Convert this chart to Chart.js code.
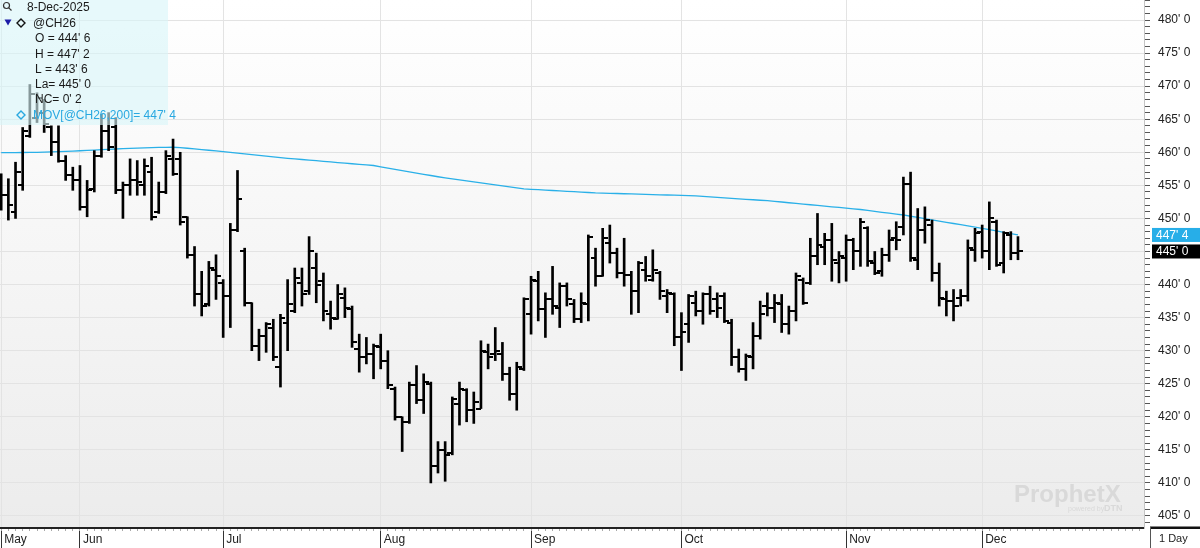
<!DOCTYPE html>
<html>
<head>
<meta charset="utf-8">
<script src="https://cdn.jsdelivr.net/npm/chart.js@4.4.1/dist/chart.umd.min.js"></script>
<style>
html,body{margin:0;padding:0;background:#fff;overflow:hidden}
canvas{display:block}
</style>
</head>
<body>
<canvas id="c" width="1200" height="548"></canvas>
<script>
const symbol = '@CH26';
const lastDate = '8-Dec-2025';
const monthLabels = ['May','Jun','Jul','Aug','Sep','Oct','Nov','Dec'];
const monthStarts = [0, 11, 31, 53, 74, 95, 118, 137];

const opens = [
456.5,453.5,451.0,455.0,462.5,465.25,466.0,463.75,461.5,458.75,
456.5,455.75,451.75,454.5,459.5,463.25,463.75,454.25,455.0,455.75,
455.0,457.0,451.0,454.0,459.0,459.0,450.25,444.5,438.5,437.0,
442.25,440.25,438.25,448.25,445.0,437.25,430.75,432.25,433.5,427.5,
434.25,436.0,440.25,439.0,442.5,440.5,435.5,434.75,438.0,436.25,
430.25,429.0,429.5,430.5,428.5,424.25,420.0,419.25,424.75,422.5,
425.0,412.5,415.0,414.5,422.0,424.0,421.0,421.25,429.75,429.5,
429.5,426.5,423.5,427.25,435.5,440.5,436.25,437.75,436.5,439.75,
437.0,434.75,437.0,444.0,441.25,446.25,444.75,441.75,441.5,439.0,
442.25,440.75,441.75,438.25,438.5,432.0,434.0,437.25,436.0,438.5,
437.75,438.25,434.25,429.0,427.25,429.0,432.25,436.75,436.5,437.0,
434.0,436.0,440.75,440.25,444.25,445.75,446.75,443.25,444.0,446.75,
445.0,448.5,443.25,442.0,444.5,447.0,448.75,455.25,443.75,448.25,
449.0,441.75,437.75,437.5,438.0,438.25,445.25,448.0,445.0,449.5,
443.25,447.5,444.75];

const highs = [
456.75,456.0,458.5,463.75,470.25,469.0,468.0,464.0,464.0,459.5,
457.75,458.0,455.75,460.25,465.75,466.0,465.25,455.5,459.0,458.75,
459.0,459.25,455.5,460.25,462.0,460.0,450.25,445.75,442.0,443.5,
444.5,440.75,449.25,457.25,445.5,437.25,433.25,434.25,434.75,435.5,
440.75,442.5,442.5,447.25,444.75,441.75,437.5,440.0,439.5,436.75,
432.5,432.0,431.0,432.5,430.0,424.5,420.0,425.25,427.75,426.5,
425.25,416.25,416.25,423.0,425.25,424.25,423.75,431.5,431.0,433.5,
431.25,427.5,428.25,438.0,441.25,442.0,438.75,442.75,440.25,440.25,
437.75,438.75,447.5,445.5,448.5,449.0,445.5,447.0,442.0,443.5,
444.25,445.25,442.0,439.25,438.75,435.75,438.5,439.0,438.75,439.75,
438.75,438.75,434.75,430.25,429.5,434.25,437.5,438.75,438.5,438.5,
436.75,441.75,441.0,447.0,450.75,447.75,449.25,445.0,447.5,447.0,
450.0,448.75,445.0,445.5,448.25,449.5,456.25,457.0,451.5,451.75,
449.75,443.25,439.0,439.25,439.25,446.75,448.5,449.0,452.5,449.75,
448.0,448.0,447.25];

const lows = [
451.25,449.75,450.0,454.25,462.25,464.5,463.0,459.5,458.5,455.75,
454.25,451.25,450.25,454.0,459.25,460.25,453.75,450.0,453.5,453.5,
453.5,449.75,450.75,453.75,456.5,449.0,444.0,436.75,435.25,436.75,
437.75,432.0,433.5,448.0,436.75,430.0,428.5,429.75,428.5,424.5,
430.0,435.75,436.75,438.5,437.25,434.5,433.25,434.75,435.0,430.5,
426.75,428.0,425.75,427.25,424.25,419.5,414.75,419.0,422.0,420.5,
410.0,411.5,410.25,414.25,418.75,419.25,419.0,421.25,427.25,428.5,
425.5,422.5,421.0,427.0,432.5,434.5,432.0,435.5,433.5,436.75,
434.25,434.25,434.5,439.75,441.25,443.25,441.0,439.75,435.5,435.75,
440.5,440.5,437.75,435.75,430.75,427.0,431.25,435.25,434.0,435.5,
435.0,434.25,427.75,426.75,425.5,427.25,431.75,435.25,434.25,432.75,
432.5,434.5,437.0,440.0,443.0,443.0,440.5,440.25,440.5,442.25,
442.75,442.75,441.5,441.25,443.5,445.25,447.5,443.5,442.25,446.25,
440.5,436.75,435.25,434.5,436.75,437.5,443.5,444.0,442.25,442.75,
441.75,443.75,443.75];

const closes = [
453.5,452.0,457.0,463.25,468.75,468.25,464.25,461.5,458.75,456.5,
455.75,451.75,454.25,459.5,463.25,460.75,454.25,455.0,455.75,455.5,
458.0,450.25,454.0,459.5,456.75,449.5,444.5,438.5,436.75,442.5,
441.25,438.25,448.25,453.0,437.25,430.75,432.25,434.0,429.0,435.0,
437.0,441.0,438.5,445.0,440.0,436.0,435.0,438.5,436.5,431.25,
429.0,429.5,430.75,428.5,424.75,420.0,419.25,424.75,422.5,425.25,
412.5,415.0,414.25,422.75,424.25,421.0,422.25,430.0,429.0,430.0,
426.5,423.5,427.5,437.75,440.75,436.25,437.75,436.75,439.75,437.75,
434.75,437.25,447.25,441.25,447.0,444.75,441.75,441.5,439.0,443.25,
441.25,442.25,439.0,438.75,432.0,432.75,438.25,436.0,438.5,436.0,
436.5,434.5,429.0,427.25,429.25,432.25,435.5,436.5,437.25,434.0,
436.0,441.25,437.25,444.25,446.0,446.75,443.75,444.25,446.75,445.0,
449.5,443.5,441.75,444.5,446.75,446.75,455.25,444.0,448.25,449.75,
441.75,438.0,437.5,436.75,438.25,445.5,447.75,445.0,450.0,443.0,
447.75,444.75,445.0];

const ma200 = [
459.94,459.95,459.96,459.97,459.98,459.99,460.02,460.06,460.10,460.14,
460.18,460.23,460.29,460.34,460.39,460.45,460.50,460.55,460.60,460.64,
460.68,460.71,460.73,460.75,460.76,460.70,460.61,460.51,460.41,460.31,
460.20,460.09,459.98,459.87,459.76,459.65,459.54,459.43,459.32,459.20,
459.09,459.00,458.91,458.82,458.73,458.63,458.54,458.45,458.36,458.27,
458.18,458.09,458.00,457.80,457.61,457.42,457.23,457.05,456.86,456.67,
456.49,456.30,456.13,455.97,455.82,455.67,455.52,455.37,455.22,455.07,
454.92,454.77,454.62,454.47,454.40,454.34,454.28,454.22,454.16,454.10,
454.04,453.98,453.92,453.86,453.83,453.80,453.77,453.73,453.70,453.67,
453.64,453.60,453.57,453.54,453.51,453.47,453.44,453.40,453.33,453.26,
453.18,453.11,453.03,452.96,452.89,452.82,452.75,452.68,452.58,452.48,
452.37,452.27,452.17,452.07,451.96,451.86,451.76,451.66,451.55,451.45,
451.35,451.21,451.07,450.93,450.80,450.66,450.52,450.33,450.15,449.96,
449.78,449.59,449.41,449.23,449.05,448.86,448.68,448.50,448.30,448.10,
447.90,447.70,447.50];

const yTickLabels = [405,410,415,420,425,430,435,440,445,450,455,460,465,470,475,480];

const FONT = "'Liberation Sans', Arial, sans-serif";
const N = closes.length;
const X_MIN = -0.168, X_MAX = 159.6;
const Y_MIN = 403.185, Y_MAX = 483.03;

function fmt(v) {
  const w = Math.floor(v + 1e-9);
  const e = Math.round((v - w) * 8);
  return w + "' " + e;
}

const yAllTicks = [];
for (let v = Math.ceil(Y_MIN); v <= Math.floor(Y_MAX); v++) yAllTicks.push(v);
const xMinorTicks = [];
for (let i = 0; i <= Math.floor(X_MAX); i++) xMinorTicks.push(i);

function tickImg(side) {
  const c = document.createElement('canvas');
  c.width = 10; c.height = 2;
  const g = c.getContext('2d');
  g.fillStyle = '#000';
  g.fillRect(side === 'L' ? 0 : 5, 0, 5, 2);
  return c;
}

function diamond(ctx, cx, cy, r, color) {
  ctx.save();
  ctx.strokeStyle = color; ctx.lineWidth = 1.4;
  ctx.beginPath();
  ctx.moveTo(cx, cy - r); ctx.lineTo(cx + r, cy); ctx.lineTo(cx, cy + r); ctx.lineTo(cx - r, cy); ctx.closePath();
  ctx.stroke();
  ctx.restore();
}

function noPad(s) { s.paddingTop = 0; s.paddingBottom = 0; s.paddingLeft = 0; s.paddingRight = 0; }

const idx = closes.map((_, i) => i);

const deco = {
  id: 'deco',
  beforeDraw(chart) {
    const {ctx, chartArea: a} = chart;
    ctx.save();
    ctx.fillStyle = '#fff';
    ctx.fillRect(0, 0, chart.width, chart.height);
    const g = ctx.createLinearGradient(0, a.top, 0, a.bottom);
    g.addColorStop(0, '#ffffff');
    g.addColorStop(1, '#ececec');
    ctx.fillStyle = g;
    ctx.fillRect(a.left, a.top, a.right - a.left, a.bottom - a.top);
    ctx.fillStyle = '#d9d9d9';
    ctx.font = 'bold 24px ' + FONT;
    ctx.textBaseline = 'alphabetic';
    ctx.fillText('ProphetX', 1014, 502);
    ctx.font = '7px ' + FONT;
    ctx.fillText('powered by', 1068, 511);
    ctx.font = 'bold 9px ' + FONT;
    ctx.fillText('DTN', 1104, 511);
    ctx.restore();
  },
  afterDatasetsDraw(chart) {
    const ctx = chart.ctx;
    ctx.save();
    ctx.fillStyle = 'rgba(217,245,248,0.62)';
    ctx.fillRect(0, 0, 168, 125);
    ctx.strokeStyle = '#333'; ctx.lineWidth = 1.2;
    ctx.beginPath(); ctx.arc(6.5, 5.5, 3, 0, Math.PI * 2); ctx.stroke();
    ctx.beginPath(); ctx.moveTo(8.8, 7.8); ctx.lineTo(11.5, 10.5); ctx.stroke();
    ctx.font = '12px ' + FONT; ctx.textBaseline = 'middle'; ctx.fillStyle = '#1a1a1a';
    ctx.fillText(lastDate, 27, 8);
    ctx.fillStyle = '#1c1ca8';
    ctx.beginPath(); ctx.moveTo(4.5, 19.5); ctx.lineTo(11.5, 19.5); ctx.lineTo(8, 25.5); ctx.closePath(); ctx.fill();
    diamond(ctx, 21, 23, 4, '#111');
    ctx.fillStyle = '#1a1a1a';
    ctx.fillText(symbol, 33, 24);
    const L = N - 1;
    const rows = [['O = ', opens[L]], ['H = ', highs[L]], ['L = ', lows[L]], ['La= ', closes[L]], ['NC= ', closes[L] - closes[L - 1]]];
    rows.forEach((r, k) => ctx.fillText(r[0] + fmt(r[1]), 35, 39 + k * 15.2));
    diamond(ctx, 21, 115, 4, '#29a8e0');
    ctx.fillStyle = '#29a8e0';
    ctx.fillText('MOV[' + symbol + ',200]= ' + fmt(ma200[L]), 33, 116);
    ctx.restore();
  },
  afterDraw(chart) {
    const ctx = chart.ctx;
    const y = chart.scales.y;
    const L = N - 1;
    ctx.save();
    ctx.font = '12px ' + FONT; ctx.textBaseline = 'middle';
    const ym = y.getPixelForValue(ma200[L]);
    ctx.fillStyle = '#27aee8'; ctx.fillRect(1152, ym - 7, 48, 14);
    ctx.fillStyle = '#fff'; ctx.fillText(fmt(ma200[L]), 1156, ym + 0.5);
    const yc = y.getPixelForValue(closes[L]);
    ctx.fillStyle = '#000'; ctx.fillRect(1152, yc - 7, 48, 14);
    ctx.fillStyle = '#fff'; ctx.fillText(fmt(closes[L]), 1156, yc + 0.5);
    ctx.fillStyle = '#fff'; ctx.fillRect(1150, 529, 50, 19);
    ctx.fillStyle = '#111'; ctx.fillRect(1150, 526.5, 50, 2.5);
    ctx.fillStyle = '#555'; ctx.fillRect(1150, 527, 1, 21);
    ctx.fillStyle = '#222'; ctx.font = '11px ' + FONT;
    ctx.fillText('1 Day', 1159, 539);
    ctx.restore();
  }
};

new Chart(document.getElementById('c'), {
  type: 'bar',
  data: {
    datasets: [
      {
        type: 'line', label: 'MOV', xAxisID: 'x', yAxisID: 'y',
        data: idx.map(i => ({x: i, y: ma200[i]})),
        borderColor: '#2ab0e8', borderWidth: 1.3, pointRadius: 0, tension: 0, fill: false, order: 3
      },
      {
        type: 'bar', label: 'HL', xAxisID: 'x', yAxisID: 'y',
        data: idx.map(i => ({x: i, y: [lows[i], highs[i]]})),
        backgroundColor: '#000', borderWidth: 0, barThickness: 2, grouped: false, order: 2
      },
      {
        type: 'scatter', label: 'Open', xAxisID: 'x', yAxisID: 'y',
        data: idx.map(i => ({x: i, y: opens[i]})),
        pointStyle: tickImg('L'), pointRadius: 3, order: 1
      },
      {
        type: 'scatter', label: 'Close', xAxisID: 'x', yAxisID: 'y',
        data: idx.map(i => ({x: i, y: closes[i]})),
        pointStyle: tickImg('R'), pointRadius: 3, order: 1
      }
    ]
  },
  options: {
    responsive: false,
    animation: false,
    events: [],
    layout: {autoPadding: false, padding: 0},
    plugins: {legend: {display: false}, tooltip: {enabled: false}},
    scales: {
      x: {
        type: 'linear', position: 'bottom', min: X_MIN, max: X_MAX, offset: false,
        afterBuildTicks: s => { s.ticks = monthStarts.map(v => ({value: v})); },
        afterFit: s => { s.height = 20; noPad(s); },
        grid: {offset: false, color: '#e3e3e3', lineWidth: 1, drawTicks: true, tickLength: 20, tickColor: '#333', tickWidth: 1},
        border: {display: true, color: '#222', width: 2},
        ticks: {
          autoSkip: false, maxRotation: 0, minRotation: 0, align: 'start', labelOffset: 3, padding: -16,
          color: '#222', font: {family: FONT, size: 12},
          callback: v => { const k = monthStarts.indexOf(v); return k >= 0 ? monthLabels[k] : ''; }
        }
      },
      xMinor: {
        type: 'linear', axis: 'x', position: {y: Y_MIN}, min: X_MIN, max: X_MAX, offset: false,
        afterBuildTicks: s => { s.ticks = xMinorTicks.map(v => ({value: v})); },
        afterFit: s => { noPad(s); },
        grid: {offset: false, drawOnChartArea: false, drawTicks: true, tickLength: 3, tickColor: '#aaa', tickWidth: 1},
        border: {display: false},
        ticks: {display: false, autoSkip: false}
      },
      y: {
        type: 'linear', position: 'right', min: Y_MIN, max: Y_MAX, beginAtZero: false,
        afterBuildTicks: s => { s.ticks = yAllTicks.map(v => ({value: v})); },
        afterFit: s => { s.width = 56; noPad(s); },
        grid: {
          color: c => (c.tick && yTickLabels.includes(c.tick.value)) ? '#e3e3e3' : 'rgba(0,0,0,0)',
          drawTicks: true, tickLength: 6, tickColor: '#555', tickWidth: 1
        },
        border: {display: true, color: '#c4c4c4', width: 1},
        ticks: {
          autoSkip: false, padding: 8, color: '#222', font: {family: FONT, size: 12},
          callback: v => yTickLabels.includes(v) ? fmt(v) : ''
        }
      }
    }
  },
  plugins: [deco]
});
</script>
</body>
</html>
